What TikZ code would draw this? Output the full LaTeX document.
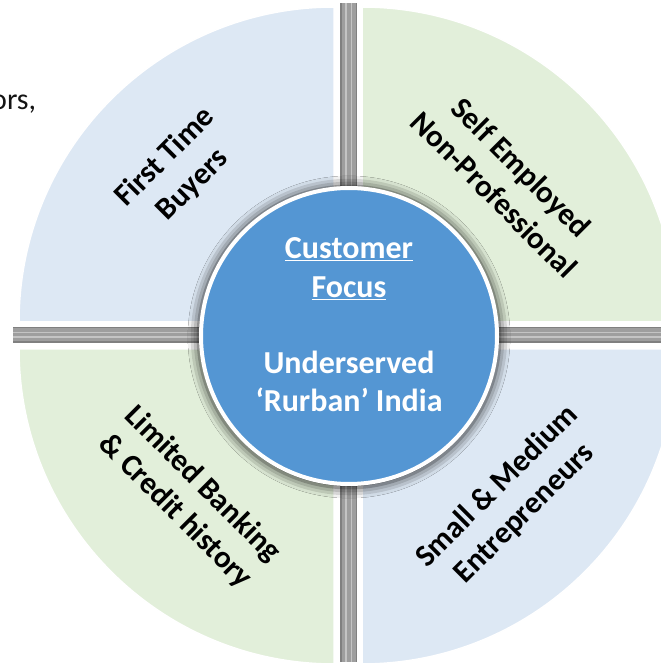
\documentclass[tikz,border=0pt]{standalone}
\usepackage{fontspec}
\setmainfont{Carlito}
\usetikzlibrary{shadows.blur}
\definecolor{qblue}{RGB}{221,232,244}
\definecolor{qgreen}{RGB}{226,239,218}
\definecolor{cblue}{RGB}{84,150,211}
\definecolor{barg}{RGB}{158,158,158}
\definecolor{barl}{RGB}{196,196,196}
\definecolor{bard}{RGB}{128,128,128}
\begin{document}
\begin{tikzpicture}[x=1pt,y=1pt,
  quad/.style={draw=white, line width=1.5pt},
  lbl/.style={font=\fontsize{31}{38.5}\selectfont\bfseries, align=center, text=black, inner sep=0pt},
  hubtext/.style={font=\fontsize{32}{38.25}\selectfont\bfseries, align=center, text=white, inner sep=0pt},
  hubstyle/.style={circle, fill=cblue, draw=white, line width=4pt, minimum size=296pt, inner sep=0pt,
    blur shadow={shadow xshift=0pt, shadow yshift=-1pt, shadow blur radius=10pt, shadow opacity=85, shadow scale=1.02}}]
\useasboundingbox (0,0) rectangle (661,665);
\fill[white] (0,0) rectangle (661,665);
% cross bars
\fill[bard] (340,3) rectangle (357,662);
\fill[barg] (341.5,3) rectangle (355.5,662);
\fill[barl] (345,3) rectangle (346.5,662);
\fill[barl] (350.5,3) rectangle (352,662);
\fill[bard] (13,322) rectangle (670,338);
\fill[barg] (13,323.5) rectangle (670,336.5);
\fill[barl] (13,327) rectangle (670,328.5);
\fill[barl] (13,331.5) rectangle (670,333);
% quadrants
\path[quad, fill=qblue]  (334,343) -- (19,343) arc[start angle=180, end angle=90, radius=315] -- cycle;
\path[quad, fill=qgreen] (362,343) -- (362,658) arc[start angle=90, end angle=0, radius=315] -- cycle;
\path[quad, fill=qblue]  (362,316) -- (677,316) arc[start angle=0, end angle=-90, radius=315] -- cycle;
\path[quad, fill=qgreen] (334,316) -- (334,1) arc[start angle=270, end angle=180, radius=315] -- cycle;
% centre
\node[hubstyle] (hub) at (349,329) {};
\node[hubtext] (focus) at (349,340) {\underline{Customer}\\\underline{Focus}\\[38.25pt]Underserved\\‘Rurban’ India};
% quadrant labels
\node[lbl, rotate=45]  (buyers) at (179,494) {First Time\\Buyers};
\node[lbl, rotate=-45] (selfemp) at (508,484) {Self Employed\\Non-Professional};
\node[lbl, rotate=-45] (banking) at (189,167) {Limited Banking\\\& Credit history};
\node[lbl, rotate=45]  (sme) at (511,165) {Small \& Medium\\Entrepreneurs};
% clipped text at left
\node[anchor=base west, inner sep=0pt, font=\fontsize{30}{36}\selectfont, text={rgb,255:red,20;green,20;blue,20}] (ors) at (-9,555) {ors,};
\end{tikzpicture}
\end{document}
